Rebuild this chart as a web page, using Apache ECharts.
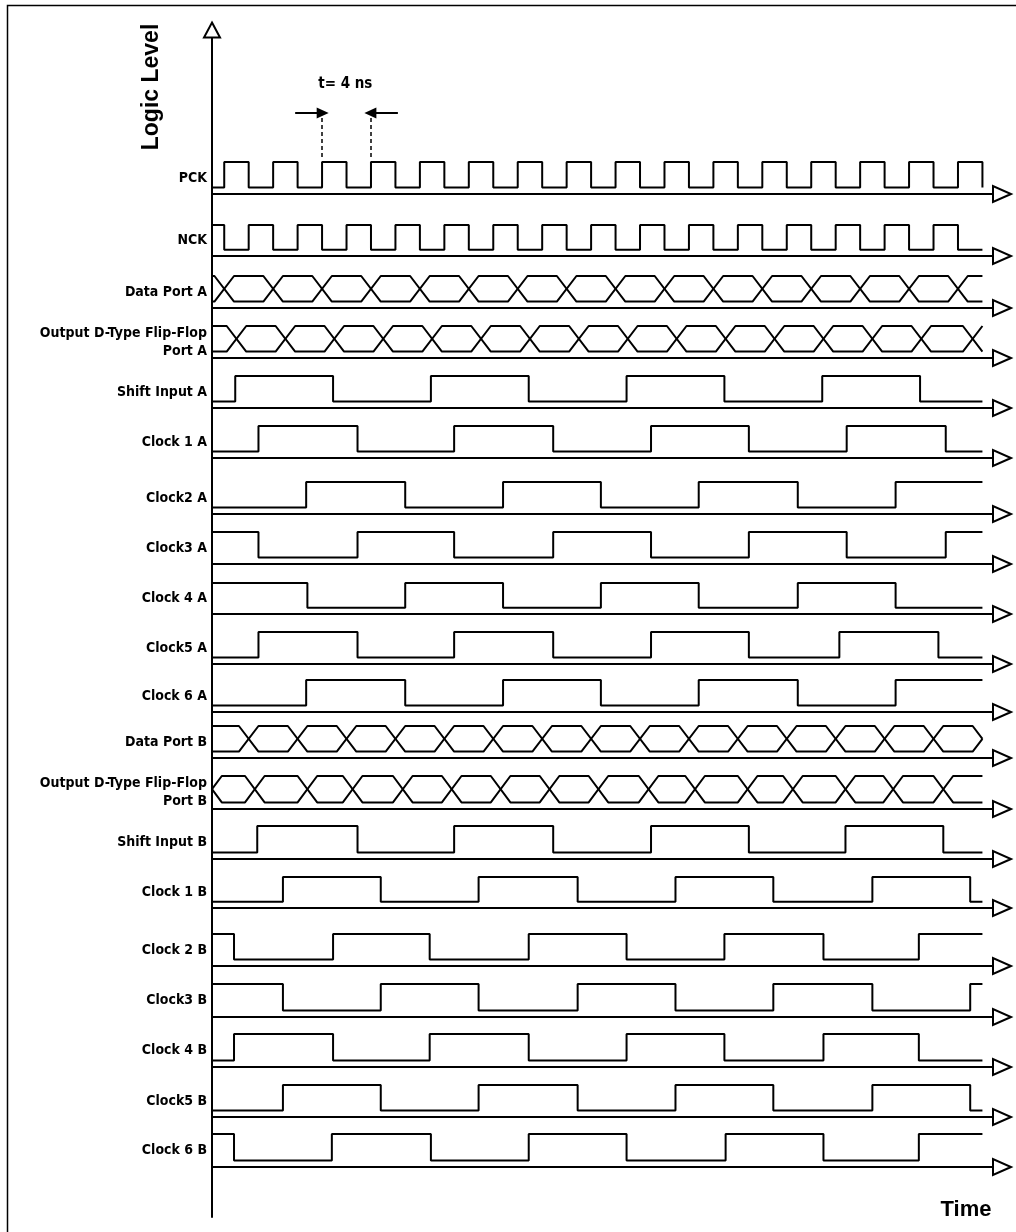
<!DOCTYPE html>
<html>
<head>
<meta charset="utf-8">
<script src="https://cdn.jsdelivr.net/npm/echarts@6/dist/echarts.min.js"></script>
<style>
html,body{margin:0;padding:0;background:#fff;}
#chart{width:1016px;height:1232px;}
</style>
</head>
<body>
<div id="chart"></div>
<script>
// ---------- data (time in ns) ----------
const rowLabels = [
  'PCK', 'NCK', 'Data Port A', 'Output D-Type Flip-Flop\nPort A', 'Shift Input A',
  'Clock 1 A', 'Clock2 A', 'Clock3 A', 'Clock 4 A', 'Clock5 A', 'Clock 6 A',
  'Data Port B', 'Output D-Type Flip-Flop\nPort B', 'Shift Input B',
  'Clock 1 B', 'Clock 2 B', 'Clock3 B', 'Clock 4 B', 'Clock5 B', 'Clock 6 B'
];
// start logic level of each square-wave row (null = bus row)
const startLevels = [0, 1, null, null, 0, 0, 0, 1, 1, 0, 0, null, null, 0, 0, 1, 1, 0, 0, 1];

const pckEdges = [1, 3, 5, 7, 9, 11, 13, 15, 17, 19, 21, 23, 25, 27, 29, 31, 33, 35, 37, 39, 41, 43, 45, 47, 49, 51, 53, 55, 57, 59, 61, 63];
const nckEdges = [1, 3, 5, 7, 9, 11, 13, 15, 17, 19, 21, 23, 25, 27, 29, 31, 33, 35, 37, 39, 41, 43, 45, 47, 49, 51, 53, 55, 57, 59, 61];
const dataPortACross = [1, 5, 9, 13, 17, 21, 25, 29, 33, 37, 41, 45, 49, 53, 57, 61];
const outputPortACross = [2, 6, 10, 14, 18, 22, 26, 30, 34, 38, 42, 46, 50, 54, 58, 62.2];
const shiftInputAEdges = [1.9, 9.9, 17.9, 25.9, 33.9, 41.9, 49.9, 57.9];
const clock1AEdges = [3.8, 11.9, 19.8, 27.9, 35.9, 43.9, 51.9, 60.0];
const clock2AEdges = [7.7, 15.8, 23.8, 31.8, 39.8, 47.9, 55.9];
const clock3AEdges = [3.8, 11.9, 19.8, 27.9, 35.9, 43.9, 51.9, 60.0];
const clock4AEdges = [7.8, 15.8, 23.8, 31.8, 39.8, 47.9, 55.9];
const clock5AEdges = [3.8, 11.9, 19.8, 27.9, 35.9, 43.9, 51.3, 59.4];
const clock6AEdges = [7.7, 15.8, 23.8, 31.8, 39.8, 47.9, 55.9];
const dataPortBCross = [3, 7, 11, 15, 19, 23, 27, 31, 35, 39, 43, 47, 51, 55, 59];
const outputPortBCross = [3.5, 7.8, 11.5, 15.6, 19.6, 23.6, 27.6, 31.6, 35.7, 39.5, 43.8, 47.5, 51.8, 55.7, 59.8];
const shiftInputBEdges = [3.7, 11.9, 19.8, 27.9, 35.9, 43.9, 51.8, 59.8];
const clock1BEdges = [5.8, 13.8, 21.8, 29.9, 37.9, 45.9, 54.0, 62.0];
const clock2BEdges = [1.8, 9.9, 17.8, 25.9, 33.9, 41.9, 50.0, 57.8];
const clock3BEdges = [5.8, 13.8, 21.8, 29.9, 37.9, 45.9, 54.0, 62.0];
const clock4BEdges = [1.8, 9.9, 17.8, 25.9, 33.9, 41.9, 50.0, 57.8];
const clock5BEdges = [5.8, 13.8, 21.8, 29.9, 37.9, 45.9, 54.0, 62.0];
const clock6BEdges = [1.8, 9.8, 17.9, 25.9, 33.9, 42.0, 50.0, 57.8];
const endTime = 63;
const periodEdges = [9, 13];          // PCK rising edges marked "t = 4 ns"
const periodText = 't= 4 ns';

// ---------- layout / style ----------
const rowEdges = [
  pckEdges, nckEdges, dataPortACross, outputPortACross, shiftInputAEdges,
  clock1AEdges, clock2AEdges, clock3AEdges, clock4AEdges, clock5AEdges, clock6AEdges,
  dataPortBCross, outputPortBCross, shiftInputBEdges,
  clock1BEdges, clock2BEdges, clock3BEdges, clock4BEdges, clock5BEdges, clock6BEdges
];
const busShape = { 2: ['open', 'open'], 3: ['open', 'open'], 11: ['open', 'closed'], 12: ['closed', 'open'] };
const rowTop  = [162, 225, 276, 326, 376, 426, 482, 532, 583, 632, 680, 726, 776, 826, 877, 934, 984, 1034, 1085, 1134];
const rowBase = [194, 256, 308, 358, 408, 458, 514, 564, 614, 664, 712, 758, 809, 859, 908, 966, 1017, 1067, 1117, 1167];
const X_MAX = 64.6;
const LEFT = 212, RIGHT = 14;
const INK = '#000';
const labelFont = "'Liberation Sans Narrow', 'DejaVu Sans Condensed', 'Liberation Sans', sans-serif";
const SLANT = 0.8;

function stepPoints(init, edges) {
  const pts = [[0, init]];
  let lv = init;
  edges.forEach(t => { pts.push([t, lv]); lv = 1 - lv; pts.push([t, lv]); });
  pts.push([endTime, lv]);
  return pts;
}
function busPaths(cross, shape) {
  const a = [], b = [];
  let lv = 1;
  if (shape[0] === 'closed') { a.push([0, 0.5], [SLANT, 1]); b.push([0, 0.5], [SLANT, 0]); }
  else { a.push([0, 1]); b.push([0, 0]); }
  cross.forEach(c => {
    a.push([c - SLANT, lv]); b.push([c - SLANT, 1 - lv]);
    lv = 1 - lv;
    a.push([c + SLANT, lv]); b.push([c + SLANT, 1 - lv]);
  });
  if (shape[1] === 'closed') {
    a.push([endTime - SLANT, lv], [endTime, 0.5]);
    b.push([endTime - SLANT, 1 - lv], [endTime, 0.5]);
  } else {
    a.push([endTime, lv]); b.push([endTime, 1 - lv]);
  }
  return [a, b];
}

const grid = [], xAxis = [], yAxis = [], series = [];
rowLabels.forEach((label, i) => {
  grid.push({ left: LEFT, right: RIGHT, top: rowTop[i], height: rowBase[i] - rowTop[i] });
  xAxis.push({
    gridIndex: i, type: 'value', min: 0, max: X_MAX,
    axisLine: { show: true, onZero: false, symbol: ['none', 'emptyTriangle'], symbolSize: [16, 18],
      lineStyle: { color: INK, width: 2 } },
    axisTick: { show: false }, axisLabel: { show: false }, splitLine: { show: false }
  });
  const twoLine = label.indexOf('\n') >= 0;
  yAxis.push({
    gridIndex: i, type: 'value', min: -0.25, max: 1,
    axisLine: { show: false, onZero: false }, axisTick: { show: false }, axisLabel: { show: false }, splitLine: { show: false },
    name: label, nameLocation: 'middle', nameRotate: 0, nameGap: 5,
    nameTextStyle: { color: INK, fontFamily: labelFont, fontSize: 14, fontWeight: 'bold',
      align: 'right', verticalAlign: 'middle', lineHeight: 18,
      padding: twoLine ? [0, 0, 16, 0] : 0 }
  });
  const common = { type: 'line', xAxisIndex: i, yAxisIndex: i, showSymbol: false, symbol: 'none',
    lineStyle: { color: INK, width: 2 }, silent: true, animation: false, clip: false };
  if (startLevels[i] === null) {
    const [a, b] = busPaths(rowEdges[i], busShape[i]);
    series.push(Object.assign({ data: a }, common));
    series.push(Object.assign({ data: b }, common));
  } else {
    series.push(Object.assign({ data: stepPoints(startLevels[i], rowEdges[i]) }, common));
  }
});

// full-height grid carrying the vertical Logic Level axis
const gY = grid.length;
grid.push({ left: LEFT, right: RIGHT, top: 30, bottom: 15 });
xAxis.push({ gridIndex: gY, type: 'value', min: 0, max: X_MAX, show: false });
yAxis.push({ gridIndex: gY, type: 'value', min: 0, max: 1,
  axisLine: { show: true, onZero: false, symbol: ['none', 'emptyTriangle'], symbolSize: [16, 15],
    lineStyle: { color: INK, width: 2 } },
  axisTick: { show: false }, axisLabel: { show: false }, splitLine: { show: false } });

// annotation grid sharing the PCK scale, extended upwards
const gA = grid.length;
grid.push({ left: LEFT, right: RIGHT, top: 66, height: 128 });
xAxis.push({ gridIndex: gA, type: 'value', min: 0, max: X_MAX, show: false });
yAxis.push({ gridIndex: gA, type: 'value', min: -0.25, max: 4.75, show: false });
const dashTop = 2.91, dashBot = 1.2;
series.push({
  type: 'line', xAxisIndex: gA, yAxisIndex: gA, data: [], silent: true, animation: false,
  markLine: {
    silent: true, animation: false, label: { show: false }, symbol: ['none', 'none'],
    lineStyle: { color: INK, width: 1.5, type: [4, 3] },
    data: [
      [{ coord: [periodEdges[0], dashBot] }, { coord: [periodEdges[0], dashTop] }],
      [{ coord: [periodEdges[1], dashBot] }, { coord: [periodEdges[1], dashTop] }],
      [{ coord: [periodEdges[0] - 2.2, dashTop], symbol: 'none' },
       { coord: [periodEdges[0] + 0.05, dashTop], symbol: 'triangle', symbolSize: [11, 12] ,
         lineStyle: { type: 'solid', width: 2, color: INK } }],
      [{ coord: [periodEdges[1] + 2.2, dashTop], symbol: 'none' },
       { coord: [periodEdges[1] - 0.05, dashTop], symbol: 'triangle', symbolSize: [11, 12],
         lineStyle: { type: 'solid', width: 2, color: INK } }]
    ]
  },
  markPoint: {
    silent: true, animation: false, symbol: 'circle', symbolSize: 1,
    itemStyle: { color: 'rgba(0,0,0,0)' },
    label: { show: true, position: 'inside', formatter: periodText, color: INK,
      fontFamily: labelFont, fontSize: 15, fontWeight: 'bold' },
    data: [{ coord: [(periodEdges[0] + periodEdges[1]) / 2 - 0.1, 4.05] }]
  }
});

const option = {
  backgroundColor: '#fff',
  animation: false,
  grid, xAxis, yAxis, series,
  graphic: [
    { type: 'polyline', silent: true, shape: { points: [[7.5, 1232], [7.5, 5.5], [1016, 5.5]] },
      style: { stroke: INK, lineWidth: 1.5, fill: null } },
    { type: 'text', silent: true, x: 152, y: 87, rotation: Math.PI / 2,
      style: { text: 'Logic Level', fill: INK, font: "bold 23px 'Liberation Sans', Arial, sans-serif",
        textAlign: 'center', textVerticalAlign: 'middle' } },
    { type: 'text', silent: true, x: 966, y: 1210,
      style: { text: 'Time', fill: INK, font: "bold 22px 'Liberation Sans', Arial, sans-serif",
        textAlign: 'center', textVerticalAlign: 'middle' } }
  ]
};
const chart = echarts.init(document.getElementById('chart'), null, { renderer: 'canvas' });
chart.setOption(option);
</script>
</body>
</html>
